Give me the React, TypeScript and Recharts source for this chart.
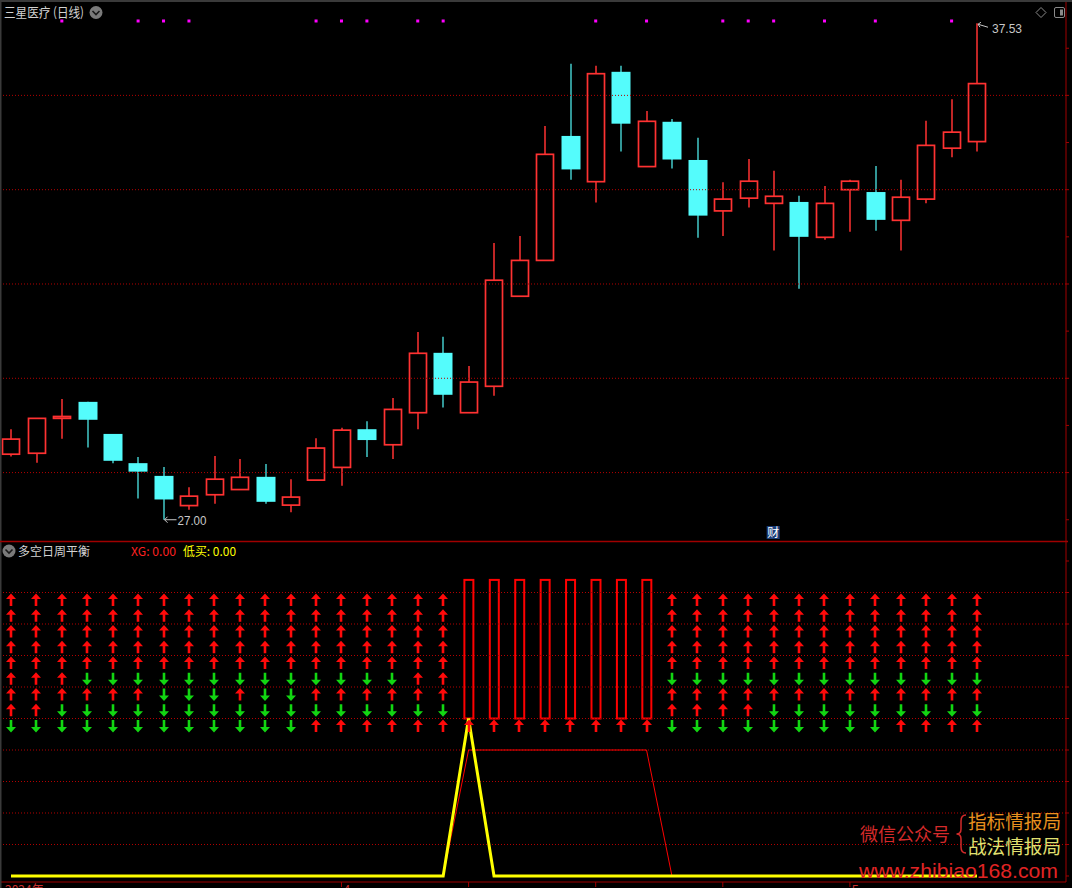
import React from 'react';
import { ComposedChart, Bar, Line, Scatter, XAxis, YAxis, ReferenceLine, ReferenceDot } from 'recharts';

// ---------- data ----------
const openPrices = [28.39, 28.41, 29.15, 29.5, 28.82, 28.2, 27.93, 27.3, 27.53, 27.64, 27.91, 27.31, 27.84, 28.11, 28.92, 28.59, 29.27, 30.54, 29.27, 29.83, 31.74, 32.5, 35.14, 34.17, 36.5, 34.49, 35.44, 34.63, 33.55, 33.82, 33.71, 33.74, 32.99, 34.0, 33.95, 33.35, 33.8, 34.88, 35.02];
const highPrices = [28.92, 29.15, 29.56, 29.5, 28.82, 28.33, 28.12, 27.69, 28.35, 28.29, 28.18, 27.86, 28.73, 28.95, 29.09, 29.58, 30.98, 30.88, 30.26, 32.87, 33.02, 35.35, 36.67, 36.63, 36.63, 35.67, 35.5, 35.1, 34.16, 34.65, 34.4, 33.87, 34.08, 34.21, 34.5, 34.21, 35.46, 35.92, 37.53];
const lowPrices = [28.34, 28.21, 28.72, 28.53, 28.2, 27.45, 27.0, 27.21, 27.34, 27.64, 27.34, 27.16, 27.84, 27.72, 28.33, 28.29, 28.92, 29.38, 29.27, 29.63, 31.74, 32.5, 34.21, 33.73, 34.81, 34.49, 34.45, 32.98, 33.02, 33.62, 32.71, 31.9, 32.94, 33.11, 33.13, 32.71, 33.71, 34.69, 34.81];
const closePrices = [28.71, 29.15, 29.19, 29.12, 28.25, 28.02, 27.43, 27.5, 27.86, 27.9, 27.38, 27.48, 28.52, 28.9, 28.69, 29.34, 30.53, 29.65, 29.92, 32.08, 32.5, 34.75, 34.43, 36.46, 35.4, 35.45, 34.64, 33.45, 33.8, 34.18, 33.86, 33.0, 33.71, 34.18, 33.36, 33.84, 34.94, 35.22, 36.25];

const priceGridLevels = [28, 30, 32, 34, 36];
const priceAxisTicks = [27, 28, 29, 30, 31, 32, 33, 34, 35, 36, 37];
const signalDays = [2, 5, 6, 7, 12, 13, 14, 16, 17, 23, 25, 28, 29, 30, 32, 34, 37];
const reportDay = 30;
const maxDay = 38;
const minDay = 6;

// indicator panel
const arrowRows = [
  'UUUUUUUUUUUUUUUUUU--------UUUUUUUUUUUUU',
  'UUUUUUUUUUUUUUUUUU--------UUUUUUUUUUUUU',
  'UUUUUUUUUUUUUUUUUU--------UUUUUUUUUUUUU',
  'UUUUUUUUUUUUUUUUUU--------UUUUUUUUUUUUU',
  'UUUUUUUUUUUUUUUUUU--------UUUUUUUUUUUUU',
  'UUUDDDDDDDDDDDDDUU--------DDDDDDDDDDDDD',
  'UUUUUUDDDUDDUUUUUU--------UUUUUUUUUUUUU',
  'UUDDDDDDDDDDDDDDDD--------UUUUDDDDDDDDD',
  'DDDDDDDDDDDDUUUUUUUUUUUUUUDDDDDDDDDUUUU',
];
const yellowLine = [0, 0, 0, 0, 0, 0, 0, 0, 0, 0, 0, 0, 0, 0, 0, 0, 0, 0, 5, 0, 0, 0, 0, 0, 0, 0, 0, 0, 0, 0, 0, 0, 0, 0, 0, 0, 0, 0, 0];
const redLine = [0, 0, 0, 0, 0, 0, 0, 0, 0, 0, 0, 0, 0, 0, 0, 0, 0, 0, 4, 4, 4, 4, 4, 4, 4, 4, 0, 0, 0, 0, 0, 0, 0, 0, 0, 0, 0, 0, 0];
const xgDays = [18, 19, 20, 21, 22, 23, 24, 25];
const xgBottom = 5;
const xgTop = 9.4;
const indGridLevels = [1, 2, 3, 4, 5, 6, 7, 8, 9];
const indAxisTicks = [0, 1, 2, 3, 4, 5, 6, 7, 8, 9, 10];
const monthTicks = [13, 18, 23, 28, 33];
const monthLabels: Record<number, string> = { 13: '4', 33: '5' };

// ---------- layout constants ----------
const X_DOMAIN: [number, number] = [-0.3934, 41.5];
const P_DOMAIN: [number, number] = [26.549, 38.023];
const I_DOMAIN: [number, number] = [-0.1905, 10.635];
const ROW_TOP = 8.76;
const ROW_STEP = 0.5;
const SIGNAL_LEVEL = 37.578;
const REPORT_LEVEL = 26.729;
const AXIS_RED = '#a00000';
const GRID_RED = '#b40000';
const UP = '#ff3232';
const DOWN = '#54fcfc';
const NUM_FONT = '"Liberation Sans", Arial, sans-serif';
const CJK_FONT = '"Noto Sans CJK SC", sans-serif';

const candleData = openPrices.map((o, i) => ({
  i,
  open: o,
  high: highPrices[i],
  low: lowPrices[i],
  close: closePrices[i],
  range: [lowPrices[i], highPrices[i]],
}));

const signalData = signalDays.map((i) => ({ i, v: SIGNAL_LEVEL }));

const bottomData = yellowLine.map((y, i) => ({
  i,
  yellow: y,
  red: redLine[i],
  xg: xgDays.includes(i) ? [xgBottom, xgTop] : null,
}));

const arrowData: { i: number; v: number; dir: string }[] = [];
arrowRows.forEach((row, k) => {
  row.split('').forEach((c, i) => {
    if (c !== '-') arrowData.push({ i, v: ROW_TOP - k * ROW_STEP, dir: c });
  });
});

// ---------- shapes ----------
const Candle = (props: any) => {
  const { x, y, width, height, payload } = props;
  if (!payload || x == null) return null;
  const cx = Math.round(x + width / 2);
  const { open, close, high, low } = payload;
  const span = high - low || 1;
  const py = (v: number) => y + ((high - v) / span) * height;
  const up = close >= open;
  const top = py(Math.max(open, close));
  const bot = py(Math.min(open, close));
  const yh = py(high);
  const yl = py(low);
  if (up) {
    return (
      <g>
        <line x1={cx} x2={cx} y1={yh} y2={top} stroke={UP} strokeWidth={1.5} />
        <line x1={cx} x2={cx} y1={bot} y2={yl} stroke={UP} strokeWidth={1.5} />
        <rect x={cx - 8.5} y={top} width={17} height={Math.max(bot - top, 0.8)} fill="#000" stroke={UP} strokeWidth={1.7} />
      </g>
    );
  }
  return (
    <g>
      <line x1={cx} x2={cx} y1={yh} y2={yl} stroke={DOWN} strokeWidth={1.2} />
      <rect x={cx - 9.5} y={top} width={19} height={Math.max(bot - top, 1)} fill={DOWN} />
    </g>
  );
};

const SignalDot = (props: any) => {
  const { cx, cy } = props;
  if (cx == null) return null;
  return <rect x={cx - 1.5} y={cy - 1.5} width={3} height={3} fill="#ff00ff" />;
};

const XgRect = (props: any) => {
  const { x, y, width, height, payload } = props;
  if (!payload || !payload.xg || x == null) return null;
  const cx = x + width / 2;
  return <rect x={cx - 4.5} y={y} width={9} height={height} fill="none" stroke="#ff0000" strokeWidth={2} />;
};

const Arrow = (props: any) => {
  const { cx, cy, payload } = props;
  if (cx == null) return null;
  const x = Math.round(cx);
  if (payload.dir === 'U') {
    const d = `M${x},${cy - 6.5} L${x + 5},${cy - 1} L${x + 1.3},${cy - 1} L${x + 1.3},${cy + 6} L${x - 1.3},${cy + 6} L${x - 1.3},${cy - 1} L${x - 5},${cy - 1} Z`;
    return <path d={d} fill="#ff0a0a" />;
  }
  const d = `M${x},${cy + 6.5} L${x + 5},${cy + 1} L${x + 1.3},${cy + 1} L${x + 1.3},${cy - 6} L${x - 1.3},${cy - 6} L${x - 1.3},${cy + 1} L${x - 5},${cy + 1} Z`;
  return <path d={d} fill="#12d612" />;
};

const MaxLabel = (props: any) => {
  const { cx, cy } = props;
  if (cx == null) return null;
  return (
    <g>
      <path d={`M${cx + 1},${cy + 1} L${cx + 11},${cy + 4} M${cx + 1},${cy + 1} L${cx + 4},${cy - 1} M${cx + 1},${cy + 1} L${cx + 3},${cy + 4}`} stroke="#c8c8c8" strokeWidth={1} fill="none" />
      <text x={cx + 15} y={cy + 9.5} fill="#c8c8c8" fontSize={13} fontFamily={NUM_FONT} textLength={30} lengthAdjust="spacingAndGlyphs">
        {highPrices[maxDay].toFixed(2)}
      </text>
    </g>
  );
};

const MinLabel = (props: any) => {
  const { cx, cy } = props;
  if (cx == null) return null;
  return (
    <g>
      <path d={`M${cx + 1},${cy} L${cx + 13},${cy} M${cx + 1},${cy} L${cx + 4},${cy - 3} M${cx + 1},${cy} L${cx + 4},${cy + 3}`} stroke="#c8c8c8" strokeWidth={1} fill="none" />
      <text x={cx + 14} y={cy + 5} fill="#c8c8c8" fontSize={13} fontFamily={NUM_FONT} textLength={29} lengthAdjust="spacingAndGlyphs">
        {lowPrices[minDay].toFixed(2)}
      </text>
    </g>
  );
};

const ReportMark = (props: any) => {
  const { cx, cy } = props;
  if (cx == null) return null;
  return (
    <g>
      <rect x={cx - 7} y={cy - 6.5} width={13} height={13} fill="#1a3d78" />
      <text x={cx - 0.5} y={cy + 4.5} fill="#ffffff" fontSize={12} textAnchor="middle" fontFamily={CJK_FONT}>
        财
      </text>
    </g>
  );
};

const MonthTick = (props: any) => {
  const { x, y, payload } = props;
  const label = monthLabels[payload.value];
  if (!label) return null;
  return (
    <text x={x + 2} y={y + 5} fill="#c83030" fontSize={12} fontFamily={NUM_FONT}>
      {label}
    </text>
  );
};

export default function App() {
  return (
    <div style={{ position: 'absolute', left: 0, top: 0, width: 1072, height: 888, background: '#000', overflow: 'hidden' }}>
      <div style={{ position: 'absolute', left: 0, top: 0 }}>
        <ComposedChart width={1072} height={541} data={candleData} margin={{ top: 0, right: 0, bottom: 0, left: 1 }}>
          <XAxis type="number" dataKey="i" domain={X_DOMAIN} hide allowDataOverflow />
          <YAxis
            type="number"
            orientation="right"
            domain={P_DOMAIN}
            allowDataOverflow
            width={6}
            ticks={priceAxisTicks}
            interval={0}
            tickFormatter={() => ''}
            axisLine={{ stroke: AXIS_RED }}
            tickLine={{ stroke: AXIS_RED }}
            tickSize={3}
          />
          {priceGridLevels.map((v) => (
            <ReferenceLine key={v} y={v} stroke={GRID_RED} strokeDasharray="1 2" />
          ))}
          <Bar dataKey="range" barSize={18} shape={(p: any) => <Candle {...p} />} isAnimationActive={false} />
          <Scatter data={signalData} dataKey="v" shape={(p: any) => <SignalDot {...p} />} isAnimationActive={false} />
          <ReferenceDot x={maxDay} y={highPrices[maxDay]} shape={(p: any) => <MaxLabel {...p} />} />
          <ReferenceDot x={minDay} y={lowPrices[minDay]} shape={(p: any) => <MinLabel {...p} />} />
          <ReferenceDot x={reportDay} y={REPORT_LEVEL} shape={(p: any) => <ReportMark {...p} />} />
        </ComposedChart>
      </div>

      <div style={{ position: 'absolute', left: 0, top: 541 }}>
        <ComposedChart width={1072} height={370} data={bottomData} margin={{ top: 0, right: 0, bottom: 0, left: 1 }}>
          <XAxis
            type="number"
            dataKey="i"
            domain={X_DOMAIN}
            allowDataOverflow
            ticks={monthTicks}
            interval={0}
            height={29}
            axisLine={{ stroke: AXIS_RED }}
            tickLine={{ stroke: AXIS_RED }}
            tickSize={5}
            tick={(p: any) => <MonthTick {...p} />}
          />
          <YAxis
            type="number"
            orientation="right"
            domain={I_DOMAIN}
            allowDataOverflow
            width={6}
            ticks={indAxisTicks}
            interval={0}
            tickFormatter={() => ''}
            axisLine={{ stroke: AXIS_RED }}
            tickLine={{ stroke: AXIS_RED }}
            tickSize={3}
          />
          {indGridLevels.map((v) => (
            <ReferenceLine key={v} y={v} stroke={GRID_RED} strokeDasharray="1 2" />
          ))}
          <Line dataKey="red" type="linear" stroke="#ff0000" strokeWidth={1} dot={false} isAnimationActive={false} />
          <Bar dataKey="xg" barSize={10} shape={(p: any) => <XgRect {...p} />} isAnimationActive={false} />
          <Scatter data={arrowData} dataKey="v" shape={(p: any) => <Arrow {...p} />} isAnimationActive={false} />
          <Line dataKey="yellow" type="linear" stroke="#ffff00" strokeWidth={3} dot={false} isAnimationActive={false} />
        </ComposedChart>
      </div>

      <svg width={1072} height={888} style={{ position: 'absolute', left: 0, top: 0, pointerEvents: 'none' }}>
        <rect x={0} y={0} width={1072} height={2} fill="#3a3a3a" />
        <rect x={0} y={0} width={1.5} height={888} fill="#3a3a3a" />
        <line x1={0} x2={1068} y1={541.5} y2={541.5} stroke={AXIS_RED} strokeWidth={1.5} />

        <text x={4} y={17} fill="#d2d2d2" fontSize={13} fontFamily={CJK_FONT} textLength={80} lengthAdjust="spacingAndGlyphs">三星医疗 (日线)</text>
        <circle cx={96} cy={12.5} r={6.5} fill="#7a7a7a" />
        <path d="M92.5,11 L96,14.5 L99.5,11" stroke="#1a1a1a" strokeWidth={1.6} fill="none" />
        <path d="M1041,7.5 L1046,12.5 L1041,17.5 L1036,12.5 Z" stroke="#8a8a8a" fill="none" strokeWidth={1} />
        <rect x={1054.5} y={7.5} width={10} height={10} rx={1.5} stroke="#8a8a8a" fill="none" strokeWidth={1} />
        <rect x={1060} y={9.5} width={3} height={6} fill="#8a8a8a" />

        <circle cx={9} cy={551} r={6.5} fill="#7a7a7a" />
        <path d="M5.5,549.5 L9,553 L12.5,549.5" stroke="#1a1a1a" strokeWidth={1.6} fill="none" />
        <text x={18} y={555.5} fill="#d2d2d2" fontSize={12} fontFamily={CJK_FONT} textLength={72} lengthAdjust="spacingAndGlyphs">多空日周平衡</text>
        <text x={131} y={555.5} fill="#ff2020" fontSize={12} fontFamily={CJK_FONT} textLength={45} lengthAdjust="spacingAndGlyphs">XG: 0.00</text>
        <text x={183} y={555.5} fill="#ffff00" fontSize={12} fontFamily={CJK_FONT} textLength={53} lengthAdjust="spacingAndGlyphs">低买: 0.00</text>

        <text x={5} y={894} fill="#c83030" fontSize={12} fontFamily={CJK_FONT}>2024年</text>

        <text x={860} y={841} fill="#d42a2a" fontSize={18} fontFamily={CJK_FONT} textLength={90} lengthAdjust="spacingAndGlyphs">微信公众号</text>
        <path d="M966,815 Q961,815 961,821 L961,829 Q961,834 956.5,834 Q961,834 961,839 L961,847 Q961,853 966,853" stroke="#d42a2a" strokeWidth={1.5} fill="none" />
        <text x={968} y={829} fill="#e8901e" fontSize={19} fontFamily={CJK_FONT} textLength={93} lengthAdjust="spacingAndGlyphs">指标情报局</text>
        <text x={968} y={854} fill="#e2e070" fontSize={19} fontFamily={CJK_FONT} textLength={93} lengthAdjust="spacingAndGlyphs">战法情报局</text>
        <text x={859} y={878} fill="#e02424" fontSize={21} fontFamily={NUM_FONT} textLength={199} lengthAdjust="spacingAndGlyphs">www.zhibiao168.com</text>
      </svg>
    </div>
  );
}
